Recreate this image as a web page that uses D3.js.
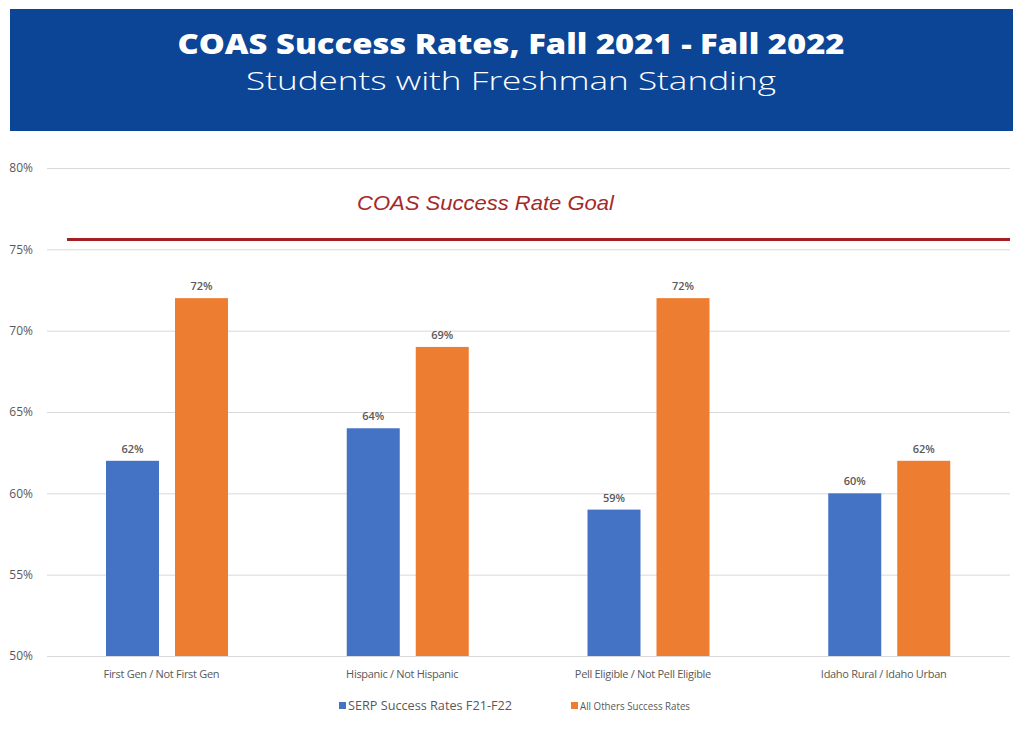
<!DOCTYPE html>
<html>
<head>
<meta charset="utf-8">
<script src="https://cdn.jsdelivr.net/npm/d3@7"></script>
<style>
  html, body { margin: 0; padding: 0; background: #fff; }
  svg { display: block; }
</style>
</head>
<body>
<svg id="chart" width="1024" height="732"></svg>
<script>
const categories = ["First Gen / Not First Gen", "Hispanic / Not Hispanic", "Pell Eligible / Not Pell Eligible", "Idaho Rural / Idaho Urban"];
const seriesNames = ["SERP Success Rates F21-F22", "All Others Success Rates"];
const serpValues = [62, 64, 59, 60];
const othersValues = [72, 69, 72, 62];
const yTicks = [50, 55, 60, 65, 70, 75, 80];
const goalValue = 75.6;
const goalLabel = "COAS Success Rate Goal";
const titleText = "COAS Success Rates, Fall 2021 - Fall 2022";
const subtitleText = "Students with Freshman Standing";
const colors = ["#4472c4", "#ed7d31"];

const svg = d3.select("#chart");

// Banner
svg.append("rect").attr("x", 10).attr("y", 9).attr("width", 1003).attr("height", 122).attr("fill", "#0c4595");
svg.append("text").attr("x", 511).attr("y", 54).attr("text-anchor", "middle")
  .attr("fill", "#fff").style("font-family", "'Open Sans', Lato, sans-serif").style("font-weight", "800")
  .style("font-size", "28px").attr("textLength", 667).attr("lengthAdjust", "spacingAndGlyphs").text(titleText);
svg.append("text").attr("x", 511).attr("y", 90).attr("text-anchor", "middle")
  .attr("fill", "#fff").style("font-family", "'Open Sans', Lato, sans-serif").style("font-weight", "300")
  .style("font-size", "25px").attr("textLength", 530).attr("lengthAdjust", "spacingAndGlyphs").text(subtitleText);

// Scales
const plotLeft = 47, plotRight = 1010;
const y = d3.scaleLinear().domain([50, 80]).range([656, 168]);
const x0 = d3.scaleBand().domain(categories).range([plotLeft, plotRight]).paddingInner(0).paddingOuter(0);
const x1 = d3.scaleBand().domain(seriesNames).range([59, 59 + 53 * 2 + 16]).paddingInner(16 / 69).paddingOuter(0);

// Gridlines
const yAxis = d3.axisLeft(y).tickValues(yTicks).tickSize(-(plotRight - plotLeft)).tickFormat(d => d + "%");
const gy = svg.append("g").attr("transform", `translate(${plotLeft},0)`).call(yAxis);
gy.select(".domain").remove();
gy.selectAll(".tick line").attr("stroke", "#d9d9d9").attr("stroke-width", 1);
gy.selectAll(".tick text").attr("x", -14).attr("fill", "#595959")
  .style("font-family", "'Open Sans', sans-serif").style("font-size", "12px");

// Bars
const data = categories.map((c, i) => ({ cat: c, vals: [serpValues[i], othersValues[i]] }));
const groups = svg.append("g").selectAll("g").data(data).join("g")
  .attr("transform", d => `translate(${x0(d.cat)},0)`);
groups.selectAll("rect").data(d => d.vals.map((v, j) => ({ v, s: seriesNames[j], j })))
  .join("rect")
  .attr("x", d => x1(d.s)).attr("width", x1.bandwidth())
  .attr("y", d => y(d.v)).attr("height", d => y(50) - y(d.v))
  .attr("fill", d => colors[d.j]);
groups.selectAll("text.val").data(d => d.vals.map((v, j) => ({ v, s: seriesNames[j], j })))
  .join("text").attr("class", "val")
  .attr("x", d => x1(d.s) + x1.bandwidth() / 2).attr("y", d => y(d.v) - 8)
  .attr("text-anchor", "middle").attr("fill", "#595959")
  .style("font-family", "'Open Sans', sans-serif").style("font-size", "11px").style("font-weight", "600")
  .text(d => d.v + "%");

// X labels
const xAxis = d3.axisBottom(x0).tickSize(0).tickPadding(0);
const gx = svg.append("g").attr("transform", `translate(0,${y(50)})`).call(xAxis);
gx.select(".domain").remove();
gx.selectAll(".tick text").attr("y", 14).attr("dy", "0.71em").attr("dx", -6).attr("fill", "#595959")
  .style("font-family", "'Open Sans', sans-serif").style("font-size", "11px").style("letter-spacing", "-0.3px");

// Goal line
svg.append("line").attr("x1", 67).attr("x2", plotRight).attr("y1", y(goalValue)).attr("y2", y(goalValue))
  .attr("stroke", "#a41e22").attr("stroke-width", 3);
svg.append("text").attr("x", 357).attr("y", 210).attr("fill", "#a52a2a")
  .style("font-family", "'Liberation Sans', Arial, sans-serif").style("font-style", "italic")
  .style("font-size", "21px").attr("textLength", 257).attr("lengthAdjust", "spacingAndGlyphs").text(goalLabel);

// Legend
const legendItems = [{ name: seriesNames[0], x: 339, w: 164, fs: 12 }, { name: seriesNames[1], x: 571, w: 110, fs: 11 }];
const lg = svg.append("g").selectAll("g").data(legendItems).join("g")
  .attr("transform", d => `translate(${d.x},706)`);
lg.append("rect").attr("x", 0).attr("y", -4).attr("width", 7).attr("height", 7)
  .attr("fill", (d, i) => colors[i]);
lg.append("text").attr("x", 9).attr("y", 4).attr("fill", "#595959")
  .style("font-family", "'Open Sans', sans-serif").style("font-size", d => d.fs + "px")
  .attr("textLength", d => d.w).attr("lengthAdjust", "spacingAndGlyphs")
  .text(d => d.name);
</script>
</body>
</html>
